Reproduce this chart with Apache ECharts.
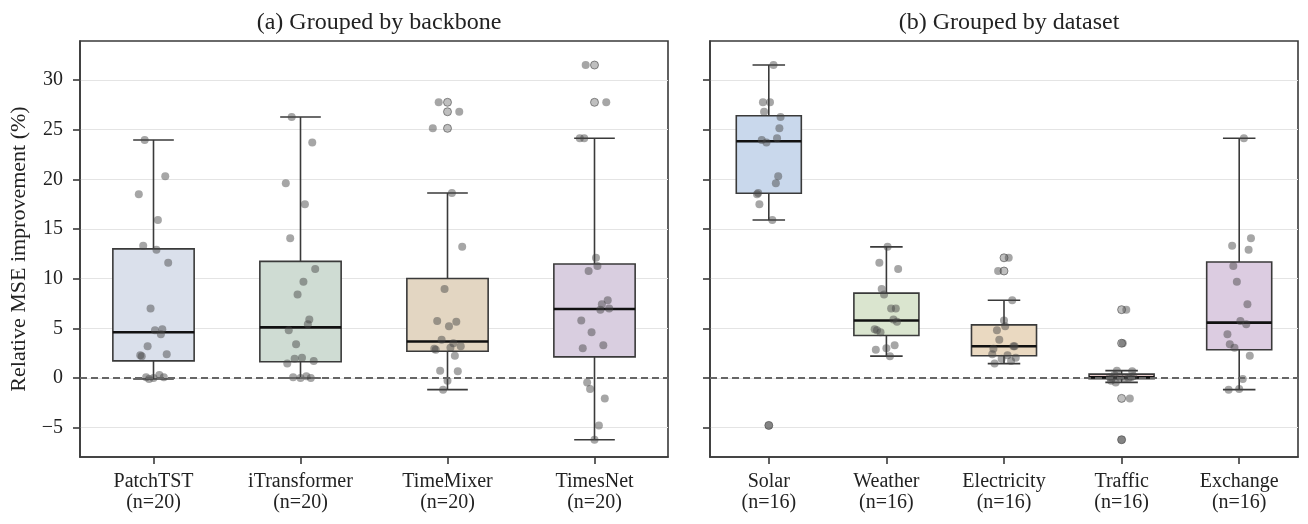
<!DOCTYPE html>
<html>
<head>
<meta charset="utf-8">
<script src="https://cdn.jsdelivr.net/npm/echarts@6/dist/echarts.min.js"></script>
<style>
  html, body { margin: 0; padding: 0; background: #fff; }
  #chart { width: 1308px; height: 524px; }
</style>
</head>
<body>
<div id="chart"></div>
<script>
// relative MSE improvement (%), 4 horizons per dataset,
// datasets in the same order as `datasets`
var backbones = ['PatchTST', 'iTransformer', 'TimeMixer', 'TimesNet'];
var datasets = ['Solar', 'Weather', 'Electricity', 'Traffic', 'Exchange'];

var patchtst = [23.96, 20.3, 18.5, 15.9, 11.6, 7.0, 4.9, 2.2, 4.8, 3.2, 2.4, 2.3, 0.3, 0.07, 0.07, 0.0, 13.3, 12.9, 4.4, -0.1];
var itransformer = [26.27, 23.7, 19.6, 17.5, 10.97, 8.4, 5.9, 4.8, 2.05, 1.95, 1.7, 1.45, 0.17, 0.07, 0.0, 0.0, 14.06, 9.7, 5.4, 3.4];
var timemixer = [27.75, 26.8, 25.13, 18.62, 13.2, 8.96, 5.67, 2.85, 5.2, 3.86, 3.2, 2.95, 3.5, 0.74, 0.67, -0.27, 5.74, 3.05, 2.25, -1.17];
var timesnet = [31.5, 27.75, 24.13, -4.77, 7.0, 4.6, 3.29, 2.99, 12.1, 10.77, 7.82, 5.8, 6.88, -0.44, -2.05, -6.21, 24.13, 11.27, 7.42, -1.1];

var yTicks = [-5, 0, 5, 10, 15, 20, 25, 30];

// styling
var FONT = 'Liberation Serif';
var EDGE = '#3a3a3a';
var colorsA = ['#dae0eb', '#cfdcd3', '#e3d6c2', '#d9cee0'];
var colorsB = ['#c9d8ec', '#dae5cf', '#ead9c1', '#e9cdcd', '#dccce1'];
// strip-plot spread (fraction of a category band)
var JIT = [-0.06, 0.08, -0.1, 0.03, 0.1, -0.02, 0.06, -0.08, 0.01, -0.04,
           0.09, -0.09, 0.04, -0.05, 0.07, 0.0, -0.07, 0.02, 0.05, -0.03];
var BOX_HALF = 0.2765;

var runs = [patchtst, itransformer, timemixer, timesnet];
var byDataset = datasets.map(function (d, k) {
  var out = [];
  runs.forEach(function (r) { out = out.concat(r.slice(k * 4, k * 4 + 4)); });
  return out;
});

function quantile(asc, p) {
  var h = (asc.length - 1) * p, i = Math.floor(h);
  var next = i + 1 < asc.length ? asc[i + 1] : asc[i];
  return asc[i] + (h - i) * (next - asc[i]);
}

function boxStats(vals) {
  var asc = vals.slice().sort(function (a, b) { return a - b; });
  var q1 = quantile(asc, 0.25), med = quantile(asc, 0.5), q3 = quantile(asc, 0.75);
  var lim = 1.5 * (q3 - q1);
  var inside = asc.filter(function (v) { return v >= q1 - lim && v <= q3 + lim; });
  return {
    q1: q1, med: med, q3: q3,
    lo: inside[0], hi: inside[inside.length - 1],
    fliers: asc.filter(function (v) { return v < q1 - lim || v > q3 + lim; })
  };
}

function panelSeries(groups, colors, g) {
  var stats = groups.map(boxStats);
  var line = function (a, b, w, c) {
    return { type: 'line', shape: { x1: a[0], y1: a[1], x2: b[0], y2: b[1] },
             style: { stroke: c || EDGE, lineWidth: w || 1.6 } };
  };
  var boxes = {
    type: 'custom',
    xAxisIndex: g * 2 + 1,
    yAxisIndex: g,
    silent: true,
    data: stats.map(function (s, i) { return [i, s.lo, s.q1, s.med, s.q3, s.hi]; }),
    encode: { x: 0, y: [1, 2, 3, 4, 5] },
    renderItem: function (params, api) {
      var i = api.value(0);
      var p = function (dx, v) { return api.coord([i + dx, v]); };
      var lo = api.value(1), q1 = api.value(2), med = api.value(3), q3 = api.value(4), hi = api.value(5);
      var tl = p(-BOX_HALF, q3), br = p(BOX_HALF, q1);
      return {
        type: 'group',
        children: [
          line(p(0, q3), p(0, hi)),
          line(p(0, q1), p(0, lo)),
          line(p(-BOX_HALF / 2, hi), p(BOX_HALF / 2, hi)),
          line(p(-BOX_HALF / 2, lo), p(BOX_HALF / 2, lo)),
          { type: 'rect', shape: { x: tl[0], y: tl[1], width: br[0] - tl[0], height: br[1] - tl[1] },
            style: { fill: colors[i], stroke: EDGE, lineWidth: 1.6 } },
          line(p(-BOX_HALF, med), p(BOX_HALF, med), 2.6, '#111')
        ]
      };
    },
    markLine: {
      silent: true,
      symbol: 'none',
      label: { show: false },
      lineStyle: { type: [7, 4], color: '#666', width: 1.8 },
      data: [{ yAxis: 0 }]
    },
    z: 2
  };
  var fliers = [];
  stats.forEach(function (s, i) { s.fliers.forEach(function (v) { fliers.push([i, v]); }); });
  var flierSeries = {
    type: 'scatter',
    xAxisIndex: g * 2 + 1,
    yAxisIndex: g,
    silent: true,
    symbolSize: 8,
    itemStyle: { color: 'rgba(110,110,110,0.55)', borderColor: 'rgba(70,70,70,0.75)', borderWidth: 1 },
    data: fliers,
    z: 3
  };
  var strip = [];
  groups.forEach(function (vals, i) {
    vals.forEach(function (v, j) { strip.push([i + JIT[j % JIT.length], v]); });
  });
  var stripSeries = {
    type: 'scatter',
    xAxisIndex: g * 2 + 1,
    yAxisIndex: g,
    silent: true,
    symbolSize: 8,
    itemStyle: { color: 'rgba(68,68,68,0.6)' },
    data: strip,
    z: 4
  };
  return [boxes, flierSeries, stripSeries];
}

function catAxis(names, groups, g) {
  return {
    type: 'category',
    gridIndex: g,
    data: names.map(function (n, i) { return n + '\n(n=' + groups[i].length + ')'; }),
    axisLine: { show: true, onZero: false, lineStyle: { color: EDGE, width: 1.6 } },
    axisTick: { show: true, alignWithLabel: true, length: 7, lineStyle: { color: EDGE, width: 1.6 } },
    axisLabel: { interval: 0, margin: 14, fontFamily: FONT, fontSize: 20, lineHeight: 21, color: '#222' },
    splitLine: { show: false }
  };
}

function valX(n, g) {
  return { type: 'value', gridIndex: g, min: -0.5, max: n - 0.5, show: false,
           axisLine: { onZero: false }, splitLine: { show: false } };
}

function yAxis(g) {
  return {
    type: 'value',
    gridIndex: g,
    min: -7.95,
    max: 33.92,
    name: g === 0 ? 'Relative MSE improvement (%)' : '',
    nameLocation: 'middle',
    nameGap: 50,
    nameTextStyle: { fontFamily: FONT, fontSize: 22, color: '#222' },
    axisLine: { show: true, onZero: false, lineStyle: { color: EDGE, width: 1.6 } },
    axisTick: { show: true, customValues: yTicks, length: 7, lineStyle: { color: EDGE, width: 1.6 } },
    axisLabel: {
      show: g === 0,
      customValues: yTicks,
      margin: 17,
      fontFamily: FONT,
      fontSize: 20,
      color: '#222',
      formatter: function (v) { return v < 0 ? '\u2212' + (-v) : String(v); }
    },
    splitLine: { show: true, lineStyle: { color: '#e4e4e4', width: 1.2 } }
  };
}

var chart = echarts.init(document.getElementById('chart'));
var titleStyle = { fontFamily: FONT, fontSize: 24, fontWeight: 'normal', color: '#222' };

chart.setOption({
  backgroundColor: '#fff',
  animation: false,
  title: [
    { text: '(a) Grouped by backbone', left: 374, top: 6, textAlign: 'center', textStyle: titleStyle },
    { text: '(b) Grouped by dataset', left: 1004, top: 6, textAlign: 'center', textStyle: titleStyle }
  ],
  grid: [
    { left: 80, top: 41, width: 588, height: 416, show: true, borderColor: EDGE, borderWidth: 1.6, backgroundColor: 'transparent' },
    { left: 710, top: 41, width: 588, height: 416, show: true, borderColor: EDGE, borderWidth: 1.6, backgroundColor: 'transparent' }
  ],
  xAxis: [
    catAxis(backbones, runs, 0), valX(backbones.length, 0),
    catAxis(datasets, byDataset, 1), valX(datasets.length, 1)
  ],
  yAxis: [yAxis(0), yAxis(1)],
  series: panelSeries(runs, colorsA, 0).concat(panelSeries(byDataset, colorsB, 1))
});
</script>
</body>
</html>
